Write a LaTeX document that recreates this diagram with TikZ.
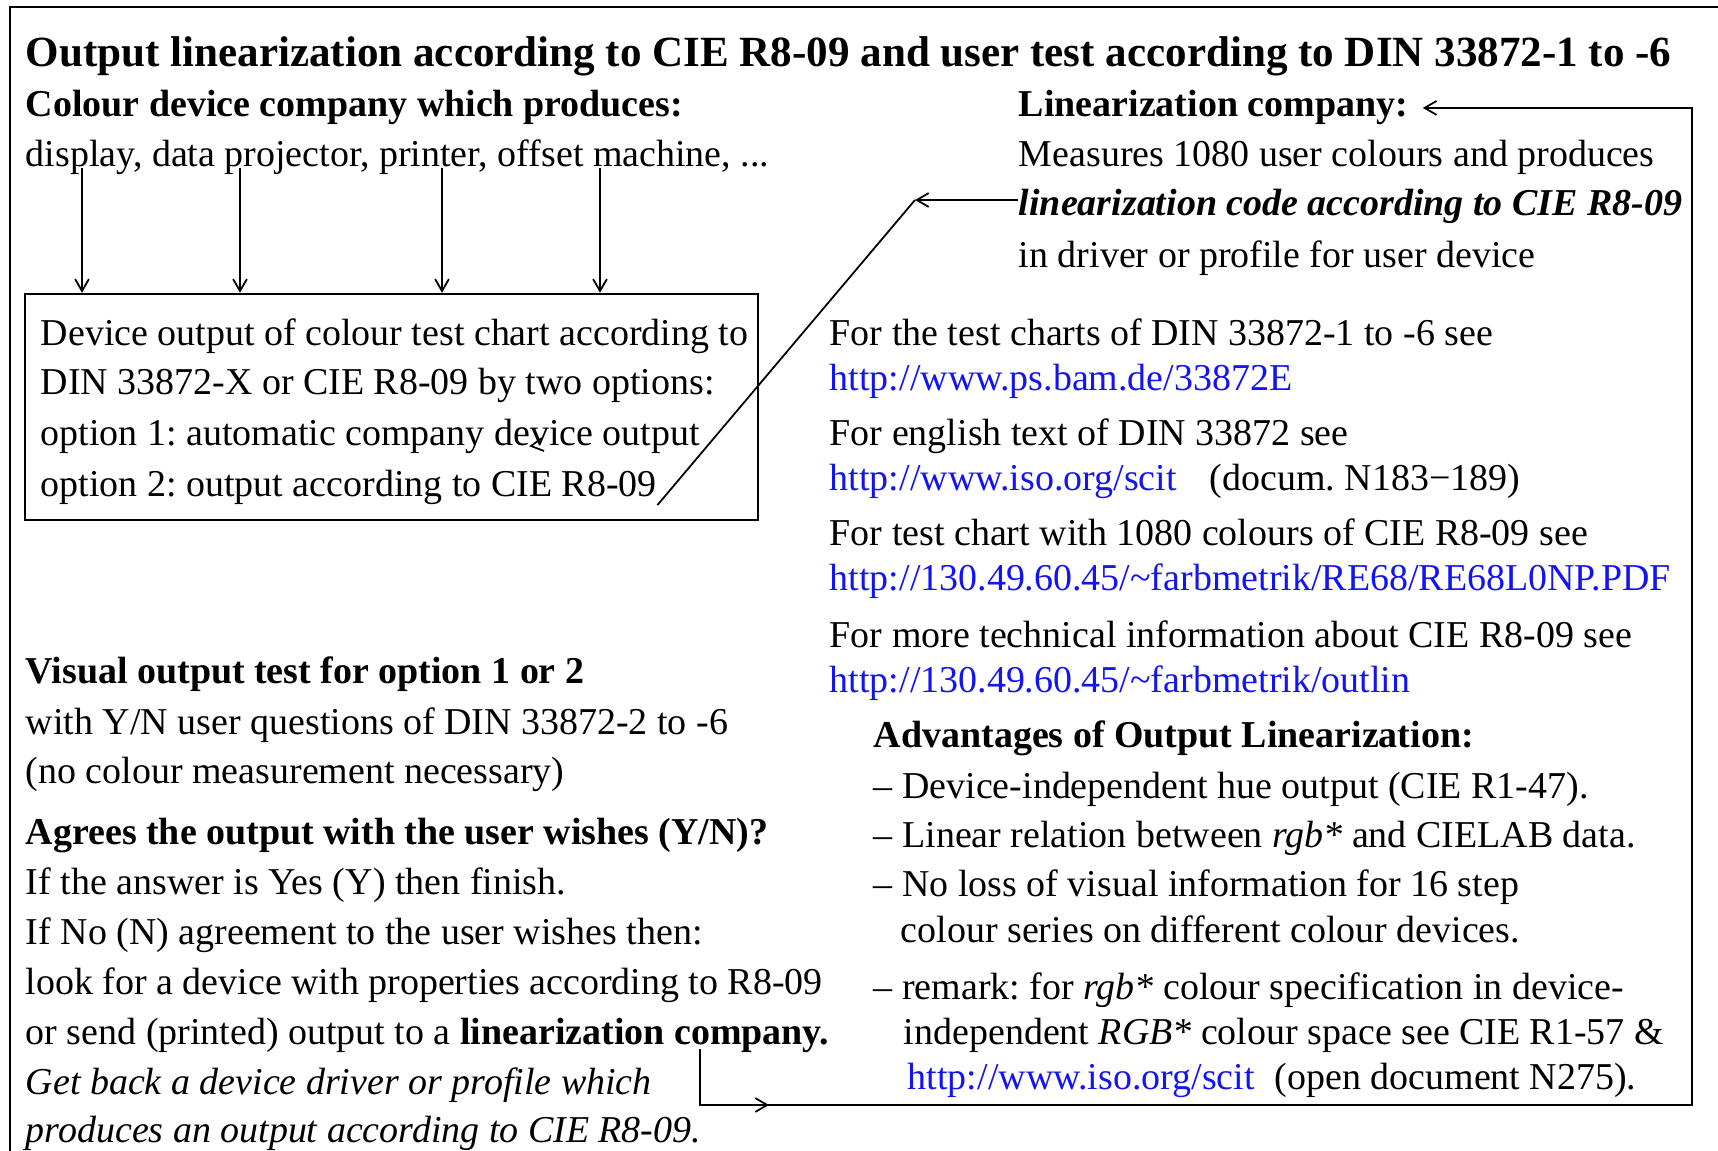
\documentclass[tikz,border=0pt]{standalone}
\usepackage{fontspec}
\setmainfont{Liberation Serif}
\usetikzlibrary{arrows,positioning,decorations.markings}
\definecolor{linkblue}{RGB}{20,20,240}
\frenchspacing

\begin{document}
\begin{tikzpicture}[>=angle 60, x=0.1mm, y=-0.1mm, line width=0.5pt,
    txt/.style={anchor=base west, inner sep=0pt, font=\fontsize{10.8}{13}\selectfont},
    head/.style={txt, font=\fontsize{10.8}{13}\selectfont\bfseries},
    bigtitle/.style={txt, font=\fontsize{12.25}{15}\selectfont\bfseries},
    url/.style={txt, text=linkblue},
    chartbox/.style={draw, line width=0.7pt, minimum width=73.3mm, minimum height=22.6mm, inner sep=0pt},
    marked/.style={postaction={decorate}, decoration={markings, mark=at position 12.5mm with {\arrow{>}}}}]
\useasboundingbox (0,0) rectangle (1718,1151);
\draw[line width=0.8pt] (10,1151) |- (1718,7);

% heading and device company
\node[bigtitle] (title) at (25,66.5) {Output linearization according to CIE R8-09 and user test according to DIN 33872-1 to -6};
\node[head] (devco) at (25,117) {Colour device company which produces:};
\node[txt] (devlist) at (25,167) {display, data projector, printer, offset machine, ...};

% linearization company
\node[head] (lincomp) at (1018,117) {Linearization company:};
\node[txt] (meas) at (1018,167) {Measures 1080 user colours and produces};
\node[txt, font=\fontsize{10.8}{13}\selectfont\bfseries\itshape] (code) at (1018,216) {linearization code according to CIE R8-09};
\node[txt] (drv) at (1018,268) {in driver or profile for user device};

% test chart box
\node[chartbox] (chart) at (391.5,407) {};
\node[txt] (opt0) at (40,345) {Device output of colour test chart according to};
\node[txt] (optx) at (40,395) {DIN 33872-X or CIE R8-09 by two options:};
\node[txt] (opt1) at (40,445) {option 1: automatic company device output};
\node[txt] (opt2) at (40,496) {option 2: output according to CIE R8-09};

% references
\node[txt] (ref1) at (829,346) {For the test charts of DIN 33872-1 to -6 see};
\node[url] (url1) at (829,391) {http://www.ps.bam.de/33872E};
\node[txt] (ref2) at (829,446) {For english text of DIN 33872 see};
\node[url] (url2) at (829,491) {http://www.iso.org/scit};
\node[txt] (doc2) at (1209,491) {(docum. N183−189)};
\node[txt] (ref3) at (829,546) {For test chart with 1080 colours of CIE R8-09 see};
\node[url] (url3) at (829,590) {http://130.49.60.45/\textasciitilde farbmetrik/RE68/RE68L0NP.PDF};
\node[txt] (ref4) at (829,648) {For more technical information about CIE R8-09 see};
\node[url] (url4) at (829,692) {http://130.49.60.45/\textasciitilde farbmetrik/outlin};

% advantages
\node[head] (adv) at (873,747) {Advantages of Output Linearization:};
\node[txt] (adv1) at (873,798) {– Device-independent hue output (CIE R1-47).};
\node[txt] (adv2) at (873,847) {– Linear relation between \textit{rgb*} and CIELAB data.};
\node[txt] (adv3) at (873,896) {– No loss of visual information for 16 step};
\node[txt] (adv3b) at (900,942) {colour series on different colour devices.};
\node[txt] (adv4) at (873,999) {– remark: for \textit{rgb*} colour specification in device-};
\node[txt] (adv4b) at (903,1044) {independent \textit{RGB*} colour space see CIE R1-57 \&};
\node[url] (url5) at (907,1089) {http://www.iso.org/scit};
\node[txt] (doc5) at (1274,1089) {(open document N275).};

% visual user test
\node[head] (vis) at (25,683) {Visual output test for option 1 or 2};
\node[txt] (vis1) at (25,734) {with Y/N user questions of DIN 33872-2 to -6};
\node[txt] (vis2) at (25,783) {(no colour measurement necessary)};
\node[head] (agree) at (25,844) {Agrees the output with the user wishes (Y/N)?};
\node[txt] (yes) at (25,894) {If the answer is Yes (Y) then finish.};
\node[txt] (no) at (25,944) {If No (N) agreement to the user wishes then:};
\node[txt] (look) at (25,994) {look for a device with properties according to R8-09};
\node[txt] (send) at (25,1044) {or send (printed) output to a \textbf{linearization company.}};
\node[txt, font=\fontsize{10.8}{13}\selectfont\itshape] (back1) at (25,1094) {Get back a device driver or profile which};
\node[txt, font=\fontsize{10.8}{13}\selectfont\itshape] (back2) at (25,1142) {produces an output according to CIE R8-09.};

% connectors
\foreach \w/\xx in {w1/82, w2/240, w3/442, w4/600}{
  \coordinate (\w) at (\xx,168);
  \draw[->] (\w) -- (\w |- chart.north);
}
\coordinate (kink) at (915,200);
\draw[->] (kink -| code.west) -- (kink);
\draw (kink) -- (opt2.south east);
\draw (542,438) -- (531,446) -- (544,451);

\coordinate (sendpt) at (700,1049);
\coordinate (rc) at (1692,1105);
\draw[->, marked] (sendpt) |- (rc) |- ([xshift=1.4mm]lincomp.east);
\end{tikzpicture}
\end{document}
